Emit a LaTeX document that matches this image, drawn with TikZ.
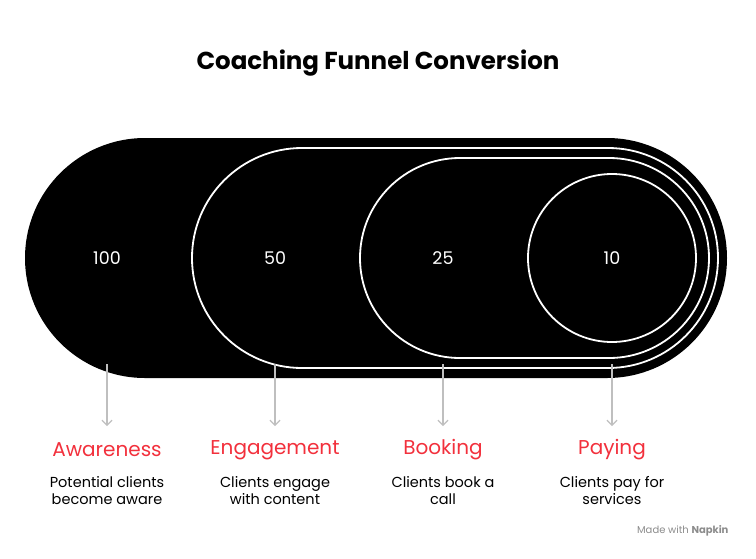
\documentclass[tikz,border=0pt]{standalone}
\usepackage{fontspec}
\setmainfont{Poppins}
\usetikzlibrary{arrows.meta}
\definecolor{nred}{RGB}{242,48,60}
\begin{document}
\begin{tikzpicture}[x=1pt,y=-1pt,
  num/.style={text=white,font=\fontsize{17.5}{20}\selectfont},
  lab/.style={text=nred,font=\fontsize{20}{24}\selectfont},
  desc/.style={align=center,font=\fontsize{14.5}{17}\selectfont},
  arr/.style={draw=black!25,line width=1.2pt,-{Straight Barb[length=5pt]}},
  ring/.style={draw=white,line width=1.8pt}]
\useasboundingbox (0,0) rectangle (756,558);
\node[font=\fontsize{24.5}{30}\selectfont\bfseries] (title) at (378,63) {Coaching Funnel Conversion};
\fill[rounded corners=120pt] (25,138) rectangle (727,378);
\draw[ring,rounded corners=110pt] (192,148) rectangle (718,368);
\draw[ring,rounded corners=100pt] (360,158) rectangle (709,358);
\draw[ring] (612,258) circle (84);
\node[num] (n1) at (107,258) {100};
\node[num] (n2) at (275,258) {50};
\node[num] (n3) at (443,258) {25};
\node[num] (n4) at (612,258) {10};
\foreach \i/\x/\l/\d in {1/107/Awareness/{Potential clients\\become aware},2/275/Engagement/{Clients engage\\with content},3/443/Booking/{Clients book a\\call},4/612/Paying/{Clients pay for\\services}}{
  \coordinate (s\i) at (\x,364);
  \coordinate (e\i) at (\x,426);
  \draw[arr] (s\i) -- (e\i);
  \node[lab] (l\i) at (\x,450) {\l};
  \node[desc] (d\i) at (\x,491) {\d};
}
\node[text=black!45,font=\fontsize{10}{12}\selectfont,anchor=east] (wm) at (732,531) {Made with \textbf{Napkin}};
\end{tikzpicture}
\end{document}
